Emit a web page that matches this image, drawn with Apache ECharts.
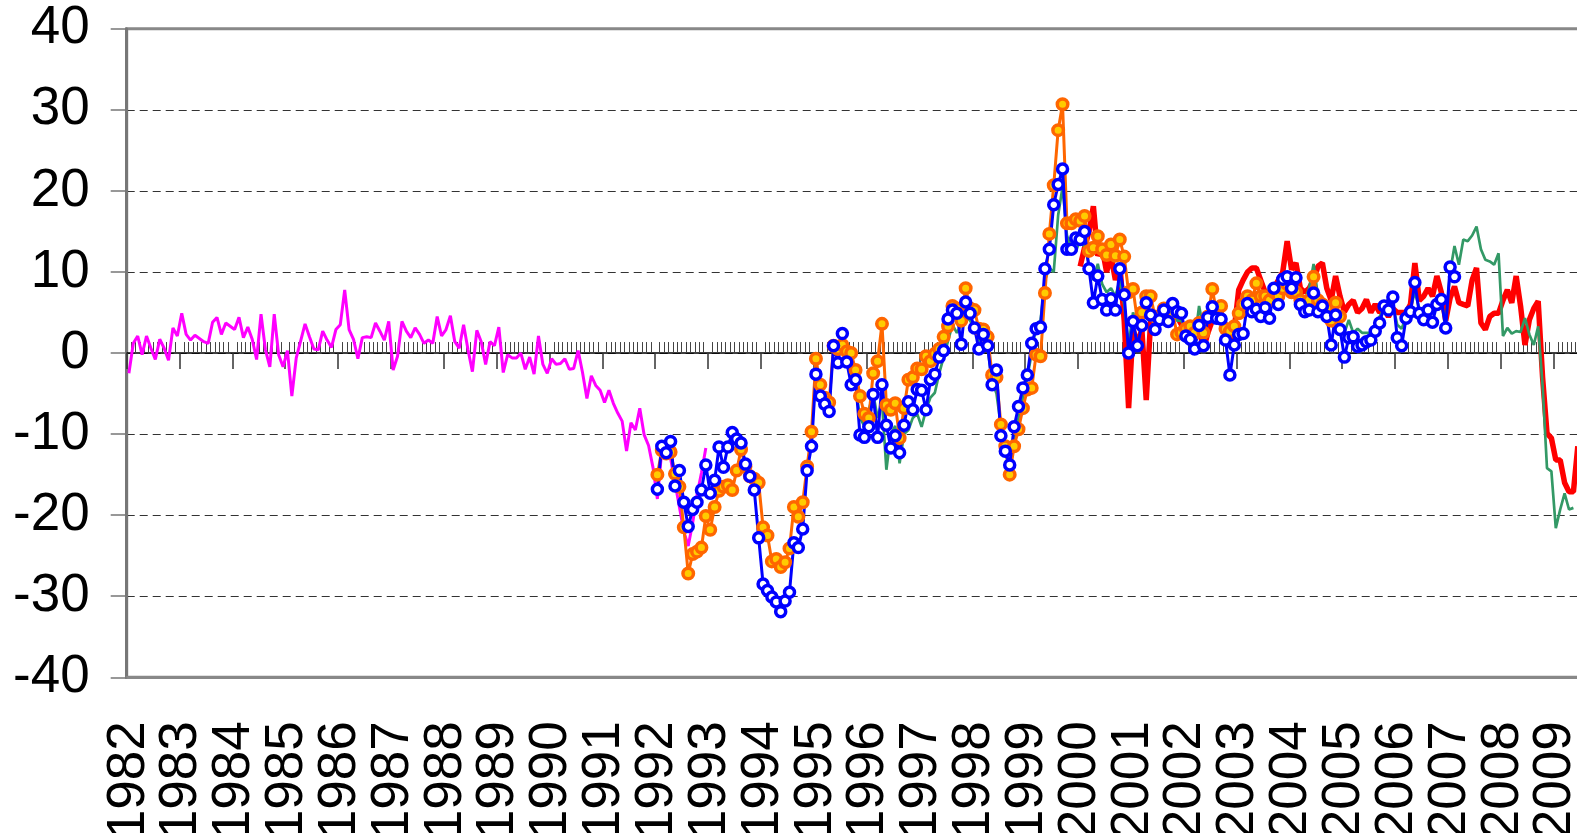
<!DOCTYPE html>
<html lang="en">
<head>
<meta charset="UTF-8">
<title>chart</title>
<script src="https://cdn.jsdelivr.net/npm/echarts@6/dist/echarts.min.js"></script>
<style>
    html, body { margin: 0; padding: 0; overflow: hidden; background: #fff; }
    #main { width: 1640px; height: 833px; }
</style>
</head>
<body>
<div id="main"></div>
<script>
    // monthly axis, Jan 1982 .. Dec 2009
    var firstYear = 1982;
    var lastYear = 2009;

    // each series starts at a month index (0 = Jan 1982)
    var magentaStart = 0;
    var magenta = [
        -2.5, 1.2, 2.1, -0.2, 2.1, 0.6, -0.8, 1.7, 0.6, -0.9, 3.1, 2.1,
        4.9, 2.3, 1.6, 2.2, 1.8, 1.4, 1.2, 3.8, 4.4, 2.3, 3.7, 3.3,
        2.9, 4.4, 1.9, 3.2, 1.7, -0.8, 4.8, 0.4, -1.7, 4.8, -0.2, -1.7,
        0.3, -5.3, -0.6, 1.5, 3.6, 2.0, 0.5, 0.4, 2.7, 1.6, 0.7, 2.9,
        3.5, 7.8, 2.9, 1.7, -0.7, 1.9, 2.0, 1.9, 3.7, 2.7, 1.6, 3.9,
        -2.1, -0.4, 3.9, 2.7, 1.9, 3.1, 2.3, 1.2, 1.6, 1.2, 4.5, 2.1,
        2.9, 4.6, 1.4, 0.6, 3.5, 0.4, -2.3, 2.8, 1.4, -1.4, 1.4, 0.9,
        3.2, -2.4, -0.2, -0.6, -0.6, 0.0, -2.0, -0.5, -2.6, 2.1, -1.4, -2.5,
        -0.7, -1.4, -1.3, -0.7, -2.0, -1.9, 0.3, -2.4, -5.6, -2.8, -4.0, -4.6,
        -6.1, -4.6, -6.2, -7.4, -8.4, -12.1, -8.6, -9.5, -6.8, -10.1, -11.4, -14.1,
        -18.0, -12.0, -11.5, -13.0, -16.0, -19.0, -22.0, -23.8, -21.0, -17.5, -14.8, -11.7
    ];

    var orangeStart = 120;
    var orange = [
        -15.0, -12.0, -12.4, -12.2, -14.9, -16.5, -21.5, -27.2, -24.8, -24.5, -24.0, -20.1,
        -21.8, -19.0, -17.0, -16.5, -16.3, -16.9, -14.5, -11.9, -14.0, -15.2, -15.5, -16.0,
        -21.5, -22.5, -25.7, -25.4, -26.4, -25.8, -24.1, -19.0, -20.2, -18.4, -14.0, -9.7,
        -0.7, -3.9, -5.5, -6.1, 0.9, 0.5, 1.0, 0.2, 0.0, -2.1, -5.3, -7.5,
        -8.0, -2.5, -1.0, 3.6, -6.4, -7.0, -6.2, -10.5, -6.8, -3.3, -3.0, -1.9,
        -2.0, -0.4, -1.0, -0.1, 0.5, 2.0, 3.3, 5.8, 5.5, 4.0, 8.0, 5.5,
        5.3, 3.0, 2.9, 2.0, -2.7, -3.0, -8.8, -11.5, -15.0, -11.5, -9.4, -6.8,
        -4.5, -4.3, -0.2, -0.4, 7.4, 14.7, 20.7, 27.5, 30.7, 16.0, 16.0, 16.5,
        16.3, 16.9, 12.6, 13.0, 14.4, 12.8, 12.1, 13.4, 12.0, 14.0, 11.9, 7.5,
        7.9, 4.0, 5.0, 7.0, 7.0, 4.5, 4.5, 5.5, 4.5, 5.0, 2.3, 2.5,
        3.0, 3.3, 2.5, 3.7, 2.5, 4.5, 7.9, 5.0, 5.8, 3.0, 2.7, 3.3,
        4.9, 6.0, 7.0, 6.5, 8.6, 7.0, 7.0, 6.5, 7.5, 7.0, 8.0, 8.5,
        7.5, 7.5, 6.5, 6.0, 6.5, 9.4, 6.5, 6.0, 5.5, 4.0, 6.2, 4.5
    ];

    var blueStart = 120;
    var blue = [
        -16.8, -11.5, -12.3, -10.9, -16.4, -14.5, -18.4, -21.4, -19.3, -18.4, -16.9, -13.8,
        -17.3, -15.7, -11.6, -14.1, -11.6, -9.8, -10.6, -11.1, -13.7, -15.2, -16.9, -22.8,
        -28.5, -29.3, -30.1, -30.7, -31.9, -30.6, -29.5, -23.4, -24.0, -21.7, -14.5, -11.5,
        -2.6, -5.3, -6.3, -7.2, 0.9, -1.2, 2.4, -1.1, -3.9, -3.3, -10.1, -10.4,
        -9.1, -5.1, -10.4, -3.9, -8.9, -11.7, -10.2, -12.3, -8.9, -6.0, -7.0, -4.5,
        -4.6, -7.0, -3.3, -2.6, -0.5, 0.3, 4.2, 5.3, 4.9, 1.1, 6.3, 4.9,
        3.1, 0.5, 2.3, 0.9, -3.9, -2.1, -10.2, -12.1, -13.8, -9.1, -6.6, -4.3,
        -2.7, 1.2, 3.0, 3.2, 10.4, 12.8, 18.3, 20.8, 22.7, 12.8, 12.8, 14.2,
        14.0, 15.0, 10.4, 6.2, 9.5, 6.6, 5.3, 6.7, 5.3, 10.4, 7.2, 0.0,
        3.9, 0.9, 3.4, 6.2, 4.7, 2.9, 4.1, 5.3, 3.9, 6.1, 5.1, 4.9,
        2.1, 1.7, 0.5, 3.4, 0.9, 4.4, 5.7, 4.3, 4.2, 1.6, -2.7, 1.0,
        2.3, 2.4, 6.1, 5.1, 5.4, 4.5, 5.6, 4.3, 8.0, 6.0, 9.1, 9.4,
        8.0, 9.3, 6.0, 5.1, 5.3, 7.4, 5.1, 5.8, 4.5, 1.0, 4.7, 2.9,
        -0.5, 1.9, 2.0, 0.8, 1.0, 1.4, 1.6, 2.7, 3.7, 5.8, 5.3, 6.9,
        1.9, 0.9, 4.3, 5.1, 8.7, 4.9, 4.1, 5.3, 3.8, 6.0, 6.6, 3.1,
        10.6, 9.4
    ];

    var greenStart = 164;
    var green = [
        -2.0, -4.0, -8.0, -9.0,
        -7.0, -5.0, -8.0, -6.0, -14.4, -10.0, -9.0, -13.6, -10.0, -9.5, -8.0, -7.5,
        -9.1, -7.0, -5.5, -4.9, -2.5, -0.5, 1.5, 3.5, 2.5, 3.5, 4.5, 4.0,
        3.0, 1.5, 2.0, 0.5, -3.5, -5.0, -9.0, -12.5, -14.0, -11.0, -8.0, -5.5,
        -3.0, 0.0, 3.5, 4.0, 9.0, 10.5, 10.0, 17.0, 20.5, 14.5, 13.0, 12.5,
        14.0, 13.0, 11.0, 9.0, 11.0, 8.5, 7.5, 8.0, 7.0, 9.0, 6.0, 1.0,
        5.0, 3.5, 4.0, 6.0, 5.0, 3.5, 4.5, 5.5, 4.5, 5.0, 4.0, 4.0,
        2.5, 2.5, 1.5, 5.8, 3.0, 4.0, 6.0, 5.5, 4.5, 3.0, 2.0, 3.0,
        6.5, 6.0, 7.5, 7.0, 7.5, 6.5, 7.0, 6.5, 8.0, 7.5, 9.0, 8.5,
        8.0, 8.5, 7.0, 6.5, 8.0, 11.0, 7.0, 6.0, 5.0, 3.5, 4.0, 3.0,
        2.5, 4.1, 2.5, 3.0, 2.5, 2.5, 2.5, 3.5, 4.5, 5.5, 6.8, 6.0,
        3.5, 3.0, 4.5, 5.5, 7.5, 5.5, 5.0, 5.5, 5.0, 6.0, 6.5, 3.5,
        10.0, 13.2, 10.9, 14.0, 13.8, 14.5, 15.6, 12.8, 11.5, 11.3, 10.9, 12.3,
        2.1, 3.1, 2.4, 2.7, 2.6, 4.3, 2.3, 1.0, 3.3, -4.0, -14.2, -14.6,
        -21.6, -19.3, -17.3, -19.3, -19.1
    ];

    var redStart = 216;
    var red = [
        10.7, 13.0, 15.0, 18.1, 12.0, 13.0, 10.0, 12.0, 9.0, 11.0, 4.0, -6.8,
        3.0, 1.0, 3.0, -5.8, 4.0, 4.0, 4.0, 5.0, 5.0, 6.6, 4.5, 3.5,
        2.5, 2.0, 2.0, 3.0, 0.5, 2.5, 4.0, 4.5, 4.0, 2.5, 1.0, 3.0,
        7.8, 9.0, 10.0, 10.5, 10.5, 9.0, 7.5, 7.0, 8.0, 9.0, 10.0, 13.8,
        10.3, 11.1, 8.0, 7.5, 8.0, 9.0, 10.7, 11.1, 8.0, 6.5, 9.5, 7.0,
        5.1, 6.0, 6.5, 5.0, 5.5, 6.6, 5.0, 6.0, 5.0, 5.5, 4.5, 5.5,
        5.0, 5.0, 5.0, 6.0, 11.1, 6.5, 7.0, 8.0, 7.0, 9.5, 7.5, 4.0,
        6.8, 8.2, 6.2, 6.0, 5.8, 9.0, 10.5, 3.7, 2.9, 4.5, 4.9, 4.9,
        6.5, 7.8, 6.2, 9.5, 5.8, 1.0, 4.1, 5.5, 6.4, -3.0, -9.9, -10.5,
        -13.2, -13.2, -16.0, -17.1, -17.1, -11.5
    ];

    var months = [];
    for (var y = firstYear; y <= lastYear; y++) {
        for (var mo = 1; mo <= 12; mo++) {
            months.push(y + '-' + (mo < 10 ? '0' + mo : mo));
        }
    }

    function pad(start, values) {
        var out = [];
        for (var i = 0; i < months.length; i++) {
            var v = values[i - start];
            out.push(i >= start && v !== undefined ? v : null);
        }
        return out;
    }

    var font = "'Liberation Sans', Arial, sans-serif";
    var monthW = 4.404;

    function yearOnly(i) { return i % 12 === 0; }
    function notYear(i) { return i % 12 !== 0; }

    var chart = echarts.init(document.getElementById('main'));

    var option = {
        animation: false,
        backgroundColor: '#fff',
        grid: {
            left: 126.7, top: 28.8, width: months.length * monthW, height: 648.5,
            outerBoundsMode: 'none', containLabel: false,
            show: true, borderColor: '#888', borderWidth: 3, backgroundColor: 'transparent'
        },
        xAxis: [
            {
                // year labels at the bottom
                type: 'category', data: months, boundaryGap: true, position: 'bottom',
                axisLine: { onZero: false, lineStyle: { color: '#888', width: 3 } },
                axisTick: { show: false },
                axisLabel: {
                    interval: yearOnly, rotate: 90, margin: 44,
                    fontSize: 53, fontFamily: font, color: '#000',
                    formatter: function (v) { return v.slice(0, 4); }
                },
                splitLine: { show: false }
            },
            {
                // zero line with monthly ticks pointing up
                type: 'category', data: months, boundaryGap: true, position: 'bottom',
                axisLine: { onZero: true, onZeroAxisIndex: 0, lineStyle: { color: '#000', width: 1.5 } },
                axisTick: { show: true, inside: true, length: 11, interval: notYear, lineStyle: { color: '#444', width: 1 } },
                axisLabel: { show: false },
                splitLine: { show: false }
            },
            {
                // yearly ticks pointing down from the zero line
                type: 'category', data: months, boundaryGap: true, position: 'bottom',
                axisLine: { show: false, onZero: true, onZeroAxisIndex: 0 },
                axisTick: { show: true, inside: false, length: 16, interval: yearOnly, lineStyle: { color: '#333', width: 1.5 } },
                axisLabel: { show: false },
                splitLine: { show: false }
            }
        ],
        yAxis: {
            type: 'value', min: -40, max: 40, interval: 10,
            axisLine: { show: true, lineStyle: { color: '#777', width: 3 } },
            axisTick: { show: true, length: 16, lineStyle: { color: '#777', width: 1.5 } },
            axisLabel: { fontSize: 53, fontFamily: font, color: '#000', margin: 37 },
            splitLine: {
                show: true, showMinLine: false, showMaxLine: false,
                lineStyle: { color: '#333', width: 1.2, type: [8, 5] }
            }
        },
        series: [
            {
                name: 'magenta', type: 'line', data: pad(magentaStart, magenta),
                showSymbol: false, lineStyle: { color: '#FF00FF', width: 3 }, silent: true
            },
            {
                name: 'red', type: 'line', data: pad(redStart, red),
                showSymbol: false, lineStyle: { color: '#FF0000', width: 5.5 }, silent: true
            },
            {
                name: 'green', type: 'line', data: pad(greenStart, green),
                showSymbol: false, lineStyle: { color: '#339966', width: 2.7 }, silent: true
            },
            {
                name: 'orange', type: 'line', data: pad(orangeStart, orange),
                symbol: 'circle', symbolSize: 10.5, showAllSymbol: true,
                lineStyle: { color: '#FF6600', width: 3 },
                itemStyle: { color: '#FFCC00', borderColor: '#FF6600', borderWidth: 3.5 },
                silent: true
            },
            {
                name: 'blue', type: 'line', data: pad(blueStart, blue),
                symbol: 'circle', symbolSize: 10, showAllSymbol: true,
                lineStyle: { color: '#0000FF', width: 3 },
                itemStyle: { color: '#FFFFFF', borderColor: '#0000FF', borderWidth: 3.5 },
                silent: true
            }
        ]
    };

    chart.setOption(option);
</script>
</body>
</html>
